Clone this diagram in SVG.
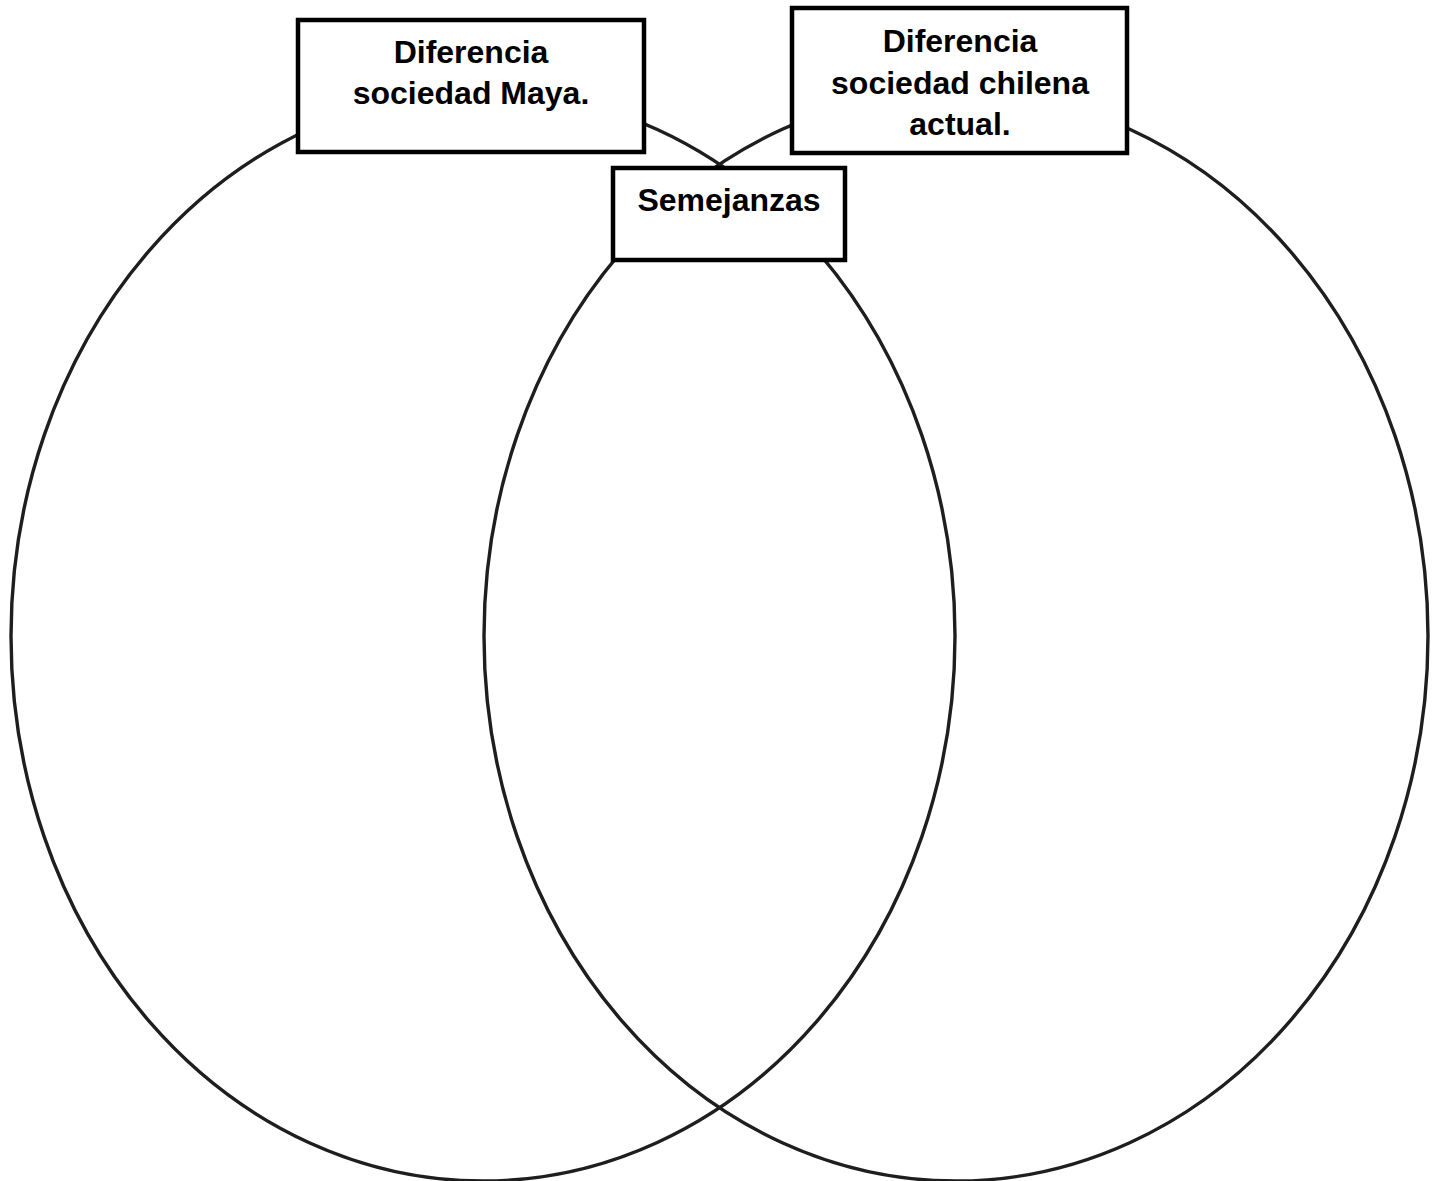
<svg xmlns="http://www.w3.org/2000/svg" width="1434" height="1181" viewBox="0 0 1434 1181">
<style>
.ell{fill:none;stroke:#1e1e1e;stroke-width:3.4}
.box{fill:#fff;stroke:#000;stroke-width:4.5}
.t{font-family:"Liberation Sans",Arial,sans-serif;font-weight:bold;font-size:32px;fill:#000;text-anchor:middle}
</style>
<rect width="1434" height="1181" fill="#fff"/>
<g id="connectors">
<ellipse id="left-ellipse" class="ell" cx="483" cy="636" rx="472" ry="545"/>
<ellipse id="right-ellipse" class="ell" cx="956" cy="636" rx="472" ry="545"/>
</g>
<g id="maya">
<rect class="box" x="298" y="20" width="346" height="132"/>
<text class="t" x="471" y="63">Diferencia</text>
<text class="t" x="471" y="104">sociedad Maya.</text>
</g>
<g id="chilena">
<rect class="box" x="792" y="8" width="335" height="145"/>
<text class="t" x="960" y="52">Diferencia</text>
<text class="t" x="960" y="94">sociedad chilena</text>
<text class="t" x="960" y="135">actual.</text>
</g>
<g id="semejanzas">
<rect class="box" x="613" y="168" width="232" height="92"/>
<text class="t" x="729" y="211">Semejanzas</text>
</g>
</svg>
